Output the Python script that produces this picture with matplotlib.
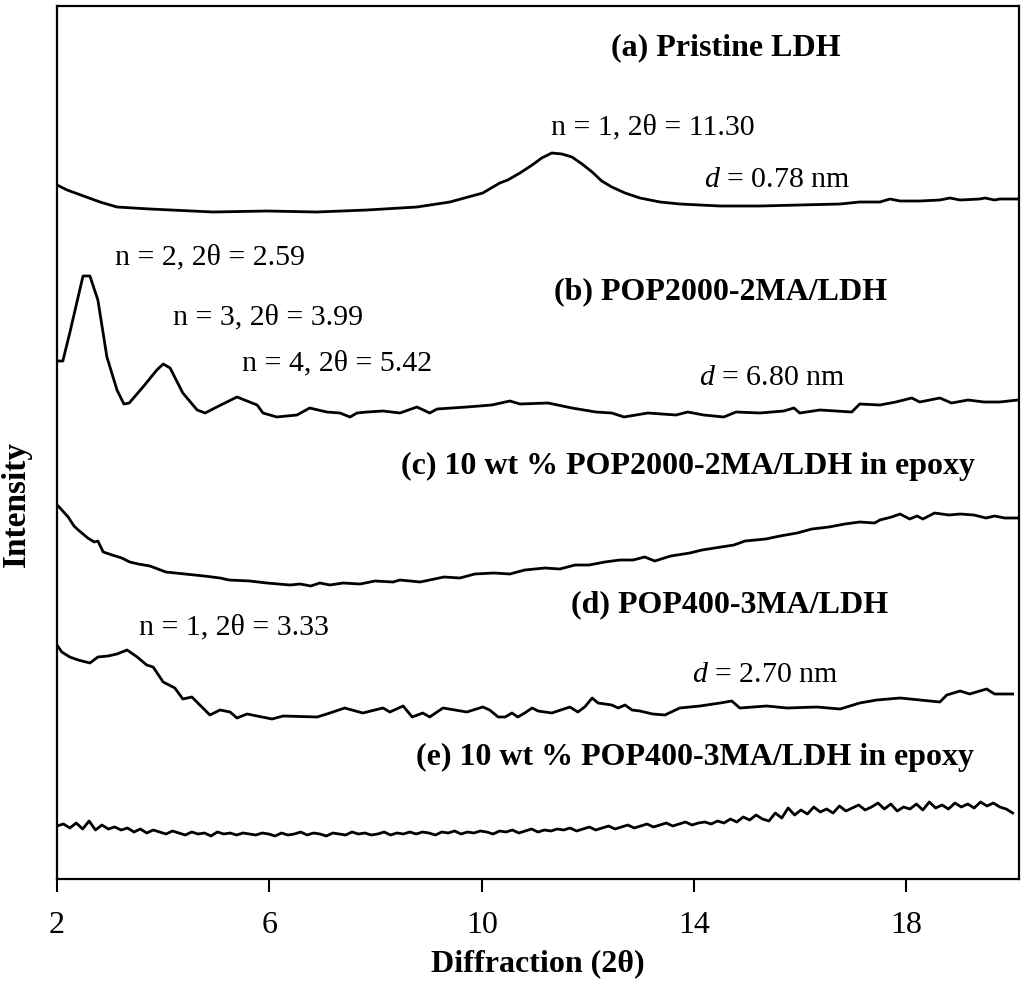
import matplotlib
matplotlib.use('Agg')
import matplotlib.pyplot as plt
import numpy as np

# XRD patterns, intensities in arbitrary units (each relative to its own baseline)
a_theta = [2.00, 2.19, 2.81, 3.13, 3.75, 4.94, 5.95, 6.89, 7.84, 8.78, 9.40, 10.02, 10.34, 10.49, 10.72,
           10.95, 11.13, 11.32, 11.51, 11.70, 11.89, 12.08, 12.26, 12.45, 12.70, 12.98, 13.36, 13.73, 14.49, 15.24,
           15.99, 16.75, 17.12, 17.50, 17.69, 17.88, 18.25, 18.63, 18.82, 19.01, 19.38, 19.48, 19.66, 19.76, 20.10]
a_int = [27, 22, 10, 5, 3, 0, 1, 0, 2, 5, 10, 19, 29, 32, 39,
         47, 54, 59, 58, 55, 48, 40, 31, 25, 19, 14, 10, 8, 6, 6,
         7, 8, 10, 10, 13, 11, 11, 12, 14, 12, 13, 14, 12, 13, 13]

b_theta = [2.00, 2.11, 2.24, 2.49, 2.62, 2.77, 2.94, 3.13, 3.26, 3.36, 3.62, 3.88, 4.00, 4.13, 4.37,
           4.64, 4.79, 5.01, 5.39, 5.77, 5.88, 6.14, 6.52, 6.76, 7.08, 7.33, 7.52, 7.65, 7.84, 8.14,
           8.46, 8.78, 9.02, 9.16, 9.72, 10.19, 10.53, 10.72, 11.25, 11.70, 12.15, 12.45, 12.68, 13.13, 13.66,
           13.88, 14.18, 14.56, 14.79, 15.24, 15.69, 15.88, 15.99, 16.37, 16.97, 17.12, 17.50, 17.80, 18.10, 18.25,
           18.63, 18.85, 19.16, 19.46, 19.76, 20.10]
b_int = [56, 56, 84, 141, 141, 117, 60, 27, 13, 14, 30, 47, 53, 49, 24,
         7, 4, 10, 20, 12, 4, 0, 2, 9, 5, 4, 0, 4, 5, 6,
         4, 10, 4, 8, 10, 12, 16, 13, 14, 9, 5, 4, 0, 4, 2,
         5, 2, 0, 5, 4, 6, 9, 4, 7, 5, 13, 12, 15, 19, 15,
         19, 14, 17, 15, 15, 17]

c_theta = [2.00, 2.04, 2.21, 2.32, 2.40, 2.58, 2.70, 2.77, 2.87, 3.04, 3.22, 3.37, 3.53, 3.75, 4.05,
           4.41, 4.77, 5.07, 5.24, 5.63, 5.95, 6.39, 6.58, 6.78, 6.95, 7.14, 7.39, 7.71, 7.99, 8.33,
           8.46, 8.84, 9.29, 9.59, 9.87, 10.23, 10.53, 10.81, 11.19, 11.47, 11.76, 12.02, 12.32, 12.60, 12.85,
           13.07, 13.26, 13.56, 13.92, 14.15, 14.39, 14.75, 14.96, 15.35, 15.62, 15.94, 16.22, 16.54, 16.84, 17.12,
           17.40, 17.50, 17.72, 17.88, 18.06, 18.20, 18.31, 18.53, 18.80, 19.01, 19.27, 19.50, 19.66, 19.85, 20.10]
c_int = [81, 79, 69, 60, 56, 48, 44, 45, 34, 31, 28, 24, 22, 20, 14,
         12, 10, 8, 6, 5, 3, 1, 2, 0, 3, 1, 3, 2, 5, 4,
         6, 4, 9, 8, 12, 13, 12, 16, 18, 17, 21, 21, 24, 26, 26,
         29, 25, 30, 33, 36, 38, 41, 45, 47, 50, 53, 57, 59, 62, 64,
         63, 66, 69, 72, 67, 70, 67, 73, 71, 72, 71, 68, 70, 68, 68]

d_theta = [2.00, 2.09, 2.24, 2.40, 2.62, 2.77, 2.96, 3.13, 3.32, 3.51, 3.69, 3.81, 4.00, 4.22, 4.37,
           4.54, 4.88, 5.07, 5.26, 5.39, 5.58, 6.05, 6.26, 6.90, 7.14, 7.42, 7.76, 8.14, 8.27, 8.52,
           8.69, 8.89, 9.02, 9.27, 9.72, 10.02, 10.15, 10.31, 10.44, 10.57, 10.68, 10.81, 10.95, 11.06, 11.32,
           11.66, 11.81, 11.94, 12.08, 12.19, 12.45, 12.57, 12.70, 12.83, 12.98, 13.22, 13.45, 13.73, 14.11, 14.49,
           14.71, 14.86, 15.37, 15.75, 16.31, 16.75, 17.12, 17.44, 17.88, 18.63, 18.76, 19.01, 19.19, 19.51, 19.66,
           20.00]
d_int = [74, 67, 62, 59, 56, 62, 63, 65, 69, 62, 54, 52, 37, 31, 20,
         22, 4, 9, 7, 1, 5, 0, 3, 2, 6, 11, 6, 11, 7, 13,
         2, 6, 2, 11, 7, 12, 9, 2, 2, 6, 2, 6, 11, 8, 6,
         12, 7, 12, 21, 16, 14, 11, 14, 9, 8, 5, 4, 11, 13, 16,
         18, 11, 13, 11, 12, 10, 16, 19, 21, 17, 24, 28, 25, 30, 25,
         25]

# (e) was scanned on a fine step
e_int = [53, 55, 51, 56, 50, 58, 49,
         54, 50, 52, 49, 51, 47, 50, 46, 49,
         47, 45, 48, 46, 44, 47, 45, 46, 43, 47, 45, 46, 44, 46, 45,
         44, 46, 45, 43, 46, 44, 45, 47, 44, 46, 45, 43, 46, 45, 44, 47, 45, 46, 44, 45, 47, 44, 46, 45, 47,
         45, 47, 46, 44, 47, 46, 48, 45, 47, 46, 48, 47, 45, 48, 47, 49, 46, 48, 50, 47, 49, 48, 50,
         49, 51, 48, 50, 52, 49, 51, 53, 50, 52, 54, 51, 53, 55, 52, 54, 56, 53, 55, 57, 54, 56, 57,
         55, 58, 56, 60, 57, 62, 59, 64, 60, 58, 66, 61, 71, 64,
         69, 65, 72, 67, 70, 66, 73, 68, 71, 74, 69, 72, 76, 70, 75, 68, 72, 70, 75, 69, 77, 71, 74, 70, 76,
         72, 75, 71, 77, 73, 76, 72, 70, 66]
e_theta = np.linspace(2.0, 20.0, len(e_int))

patterns = [(a_theta, a_int), (b_theta, b_int), (c_theta, c_int), (d_theta, d_int), (e_theta, e_int)]
offsets = [667, 462, 293, 160, 0]

plt.rcParams['font.family'] = ['Liberation Serif', 'DejaVu Serif']
plt.rcParams['mathtext.fontset'] = 'custom'
plt.rcParams['mathtext.rm'] = 'Liberation Serif'
plt.rcParams['mathtext.it'] = 'Liberation Serif:italic'

fig = plt.figure(figsize=(10.24, 9.81), dpi=100)
ax = fig.add_axes([57 / 1024, 102 / 981, 962 / 1024, 873 / 981])

for (tt, yy), off in zip(patterns, offsets):
    ax.plot(tt, np.asarray(yy) + off, color='black', lw=2.0)

ax.set_xlim(2, 20.12)
ax.set_ylim(0, 873)
ax.set_xticks([2, 6, 10, 14, 18])
ax.set_yticks([])
ax.tick_params(axis='x', direction='out', length=9, width=1.5, labelsize=23, pad=14)
for s in ax.spines.values():
    s.set_linewidth(1.6)

ax.set_xlabel('Diffraction (2θ)', fontsize=23, fontweight='bold', labelpad=7)
ax.set_ylabel('Intensity', fontsize=24, fontweight='bold')
ax.yaxis.set_label_coords(-0.026, 0.43)

bold = dict(fontsize=23, fontweight='bold', ha='center', va='center')
norm = dict(fontsize=21.5, ha='center', va='center')
ax.text(14.60, 831, '(a) Pristine LDH', **bold)
ax.text(13.22, 752, 'n = 1, 2θ = 11.30', **norm)
ax.text(15.56, 699, '$d$ = 0.78 nm', **norm)
ax.text(4.88, 622, 'n = 2, 2θ = 2.59', **norm)
ax.text(14.49, 587, '(b) POP2000-2MA/LDH', **bold)
ax.text(5.97, 562, 'n = 3, 2θ = 3.99', **norm)
ax.text(7.27, 516, 'n = 4, 2θ = 5.42', **norm)
ax.text(15.47, 501, '$d$ = 6.80 nm', **norm)
ax.text(13.88, 413, '(c) 10 wt % POP2000-2MA/LDH in epoxy', **bold)
ax.text(14.67, 274, '(d) POP400-3MA/LDH', **bold)
ax.text(5.33, 252, 'n = 1, 2θ = 3.33', **norm)
ax.text(15.33, 204, '$d$ = 2.70 nm', **norm)
ax.text(14.02, 122, '(e) 10 wt % POP400-3MA/LDH in epoxy', **bold)

fig.savefig('out.png', dpi=100)
